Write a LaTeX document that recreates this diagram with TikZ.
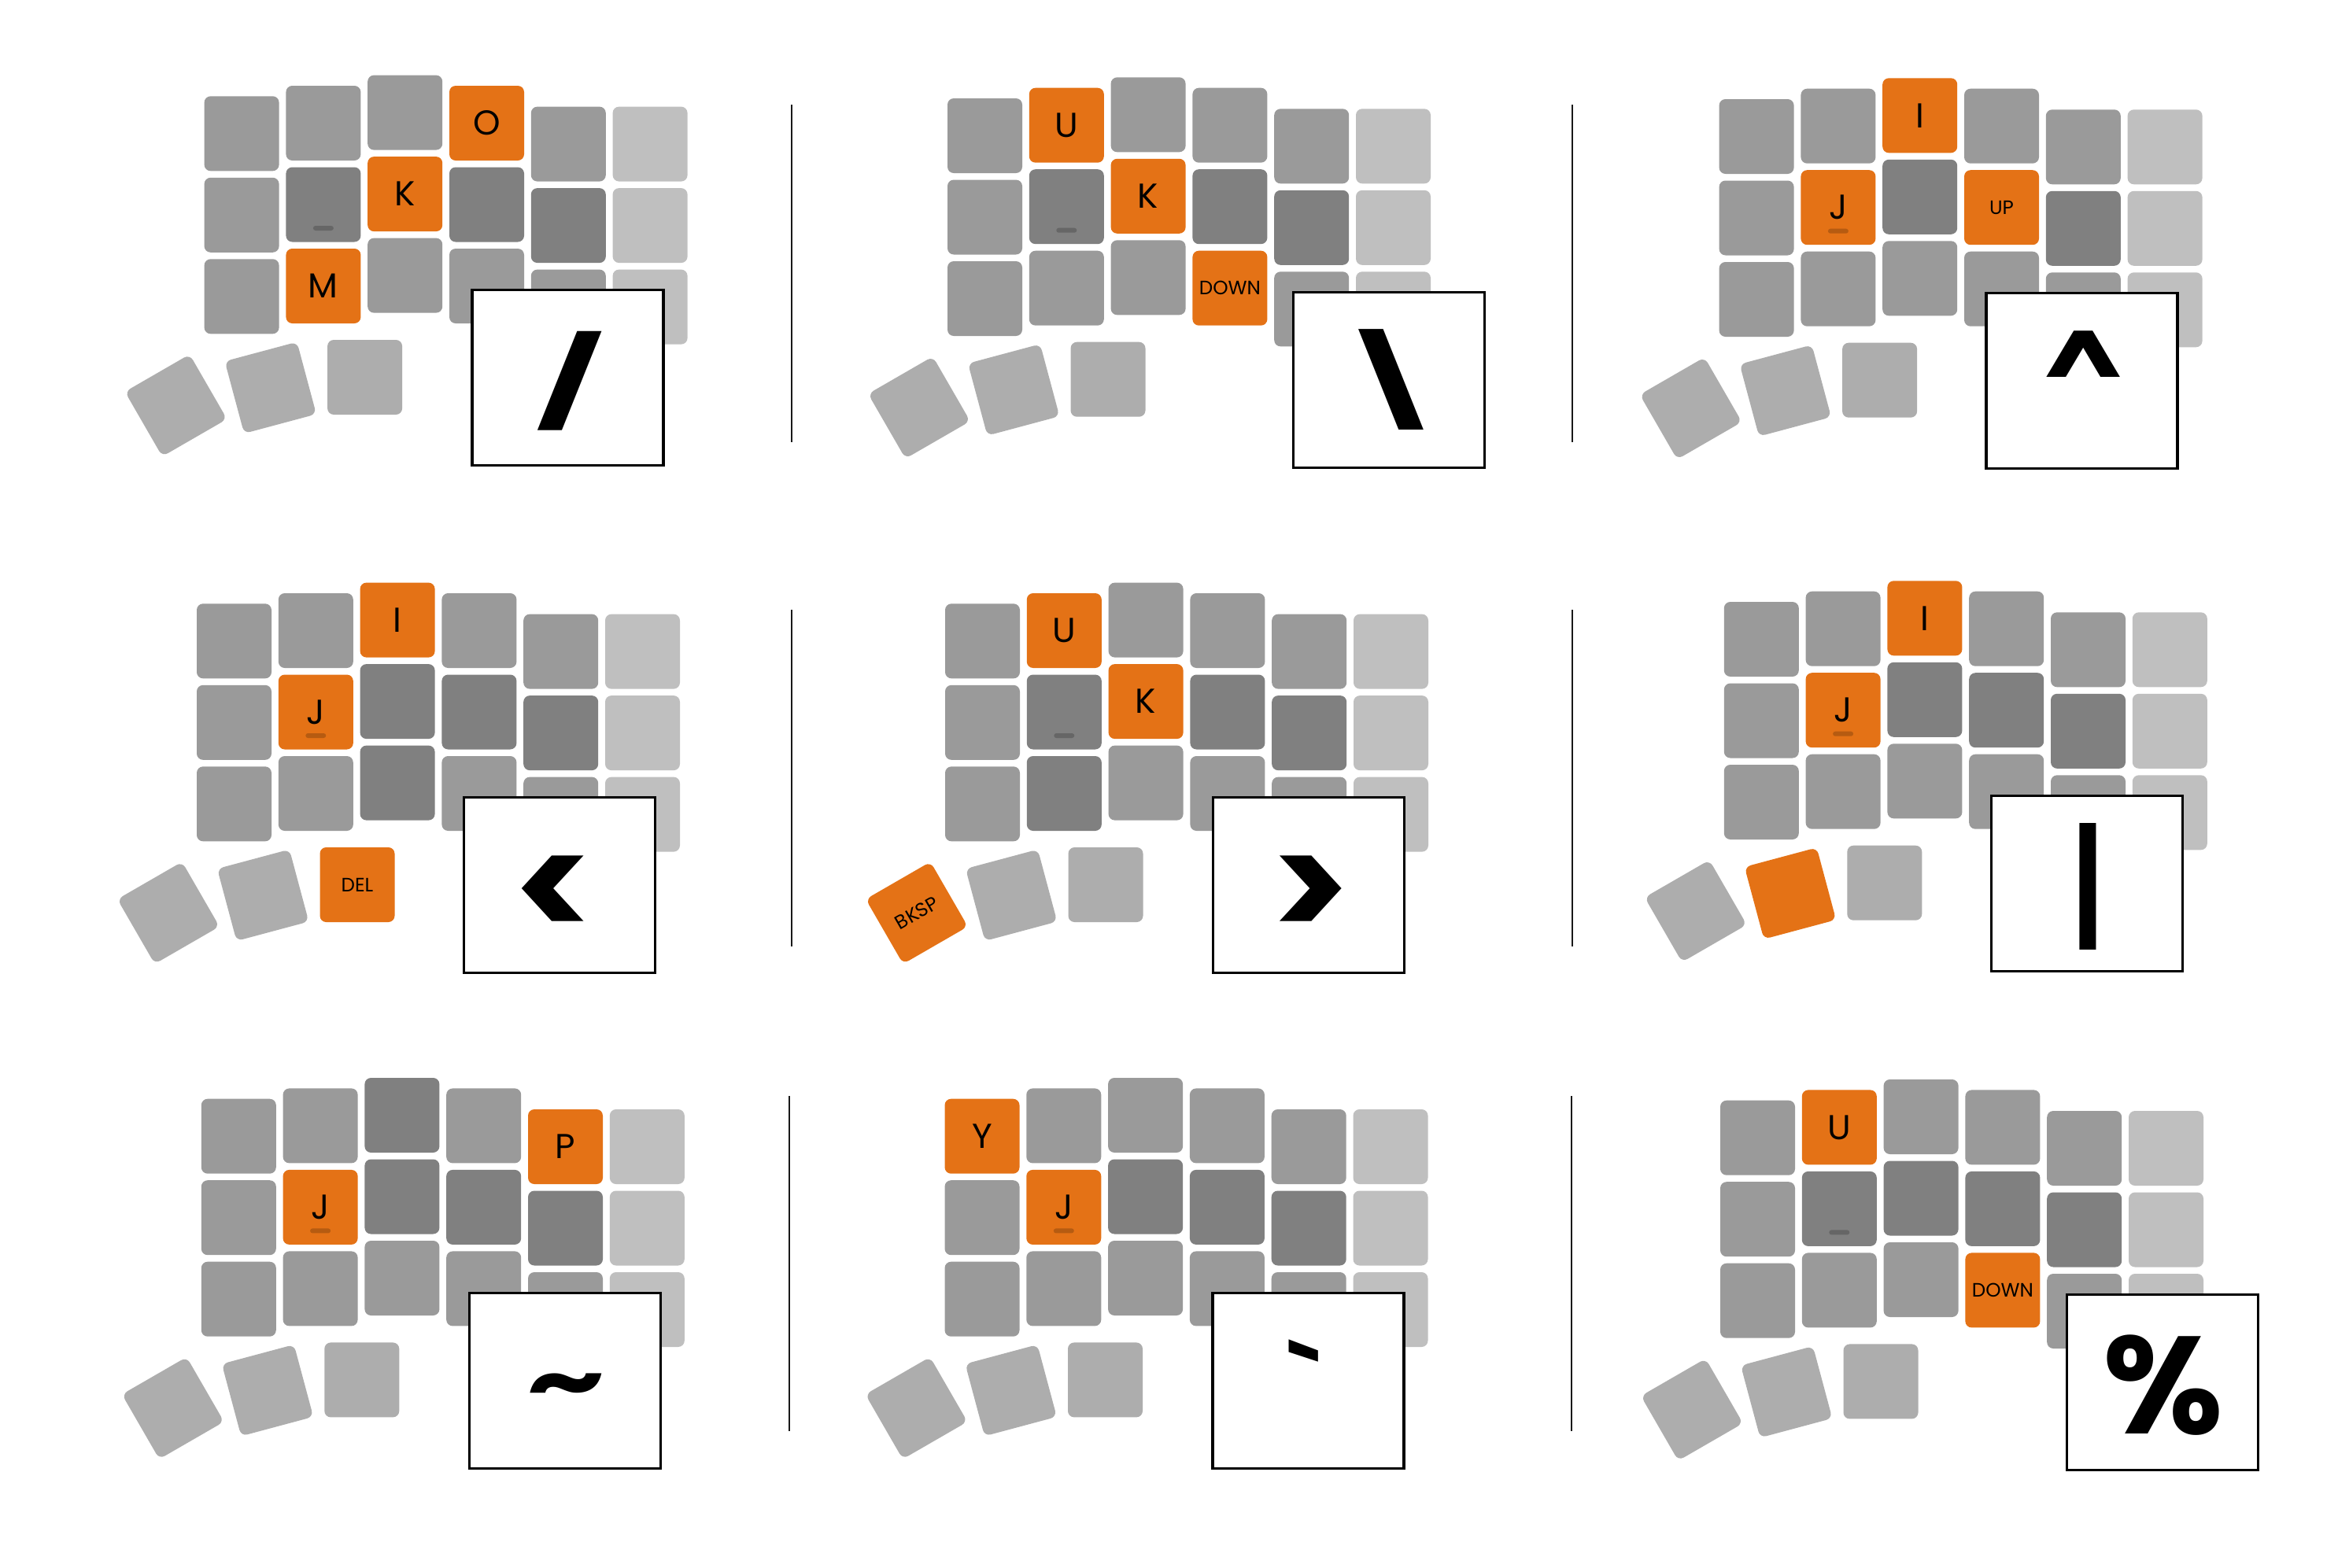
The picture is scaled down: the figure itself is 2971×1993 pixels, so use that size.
\documentclass[tikz,border=0pt]{standalone}
\usepackage{fontspec}
\usepackage{graphicx}
\setmainfont{Poppins}
\newdimen\px \px=0.01cm
\definecolor{kmed}{RGB}{154,154,154}
\definecolor{kdark}{RGB}{128,128,128}
\definecolor{klight}{RGB}{191,191,191}
\definecolor{kthumb}{RGB}{173,173,173}
\definecolor{korange}{RGB}{228,114,22}
\newcommand\sm[1]{{\fontsize{7}{8}\selectfont #1}}
\newcommand\symf[1]{\fontsize{#1}{#1}\selectfont\bfseries}
\newcommand\resetkeys{%
  \foreach \r in {0,1,2}{%
    \foreach \c in {0,...,4}{%
      \expandafter\xdef\csname kc\r\c\endcsname{kmed}%
      \expandafter\gdef\csname kl\r\c\endcsname{}}%
    \expandafter\xdef\csname kc\r5\endcsname{klight}%
    \expandafter\gdef\csname kl\r5\endcsname{}}%
  \foreach \c in {1,...,4}{\expandafter\xdef\csname kc1\c\endcsname{kdark}}%
  \foreach \t in {1,2,3}{%
    \expandafter\xdef\csname tc\t\endcsname{kthumb}%
    \expandafter\gdef\csname tl\t\endcsname{}}}
\newcommand\setk[4]{\expandafter\xdef\csname kc#1#2\endcsname{#3}\expandafter\gdef\csname kl#1#2\endcsname{#4}}
\newcommand\sett[3]{\expandafter\xdef\csname tc#1\endcsname{#2}\expandafter\gdef\csname tl#1\endcsname{#3}}
\tikzset{
  keycap/.style={fill=#1, draw=none, rounded corners=8\px, minimum size=95\px,
    inner sep=0pt, text=black, font=\fontsize{12.5}{14}\selectfont},
  homebar/.style={fill=black, fill opacity=0.2, draw=none, rounded corners=3\px,
    minimum width=26\px, minimum height=6\px, inner sep=0pt},
  symbox/.style={draw=black, fill=white, line width=3.3\px, minimum width=243\px,
    minimum height=223\px, inner sep=0pt},
  symtext/.style={inner sep=0pt, text=black},
  divider/.style={draw=black!90, line width=2\px}
}
% #1 name, #2 ox, #3 oy, #4 box dx, #5 symbol, #6 symbol dx, #7 symbol centre y in box
\newcommand\kpanel[7]{%
  \foreach \r in {0,1,2}{%
    \foreach \c/\s in {0/0,1/-13.3,2/-26.7,3/-13.3,4/13.3,5/13.3}{%
      \edef\kcol{\csname kc\r\c\endcsname}%
      \node[keycap=\kcol] (#1k\r\c) at ({#2+47.5+\c*103.8},{#3+47.5+\r*103.5+\s}) {\csname kl\r\c\endcsname};
    }}
  \node[homebar] (#1bar) at ([yshift=-30\px]#1k11.center) {};
  \edef\kcol{\csname tc1\endcsname}%
  \node[keycap=\kcol, rotate=30] (#1t1) at ({#2-36},{#3+393}) {\csname tl1\endcsname};
  \edef\kcol{\csname tc2\endcsname}%
  \node[keycap=\kcol, rotate=15] (#1t2) at ({#2+84.2},{#3+370.5}) {\csname tl2\endcsname};
  \edef\kcol{\csname tc3\endcsname}%
  \node[keycap=\kcol] (#1t3) at ({#2+204},{#3+357.2}) {\csname tl3\endcsname};
  \node[symbox] (#1box) at ({#2+#4+123},{#3+358}) {};
  \node[symtext] (#1sym) at ({#2+#4+123+#6},{#3+245+#7}) {#5};
}
\begin{document}
\begin{tikzpicture}[x=1\px, y=-1\px]
\fill[white] (0,0) rectangle (2971,1993);
\useasboundingbox (0,0) rectangle (2971,1993);
% dividers
\coordinate (d1a) at (1006,133); \coordinate (d1b) at (1006,562);
\coordinate (d2a) at (1998,133); \coordinate (d2b) at (1998,562);
\coordinate (d3a) at (1006,775); \coordinate (d3b) at (1006,1203);
\coordinate (d4a) at (1998,775); \coordinate (d4b) at (1998,1203);
\coordinate (d5a) at (1003,1393); \coordinate (d5b) at (1003,1819);
\coordinate (d6a) at (1997,1393); \coordinate (d6b) at (1997,1819);
\foreach \i in {1,...,6}{\draw[divider] (d\i a) -- (d\i b);}
% panel 1
\resetkeys
\setk{0}{3}{korange}{O}\setk{1}{2}{korange}{K}\setk{2}{1}{korange}{M}
\kpanel{pa}{259.6}{122.3}{339}{\symf{31.5}\scalebox{1.7}[1]{/}}{3}{117}
% panel 2
\resetkeys
\setk{0}{1}{korange}{U}\setk{1}{2}{korange}{K}\setk{2}{3}{korange}{\sm{DOWN}}
\kpanel{pb}{1204}{125}{438}{\symf{32}\scalebox{1.7}[1]{\textbackslash}}{3}{113}
% panel 3
\resetkeys
\setk{0}{2}{korange}{I}\setk{1}{1}{korange}{J}\setk{1}{3}{korange}{\sm{UP}}
\kpanel{pc}{2184.6}{126}{338}{\symf{50}\scalebox{0.82}[0.62]{\textasciicircum}}{2}{88}
% panel 4
\resetkeys
\setk{0}{2}{korange}{I}\setk{1}{1}{korange}{J}\setk{2}{2}{kdark}{}\sett{3}{korange}{\sm{DEL}}
\kpanel{pd}{250}{767.3}{338}{\symf{53.6}<}{-7}{129}
% panel 5
\resetkeys
\setk{0}{1}{korange}{U}\setk{1}{2}{korange}{K}\setk{2}{1}{kdark}{}\sett{1}{korange}{\sm{BKSP}}
\kpanel{pe}{1201}{767.3}{339}{\symf{53.6}>}{2.5}{129}
% panel 6
\resetkeys
\setk{0}{2}{korange}{I}\setk{1}{1}{korange}{J}\sett{2}{korange}{}
\kpanel{pf}{2190.8}{765}{338}{\symf{50}\scalebox{0.7}[0.97]{\textbar}}{2}{117}
% panel 7
\resetkeys
\setk{0}{2}{kdark}{}\setk{0}{4}{korange}{P}\setk{1}{1}{korange}{J}
\kpanel{pg}{255.8}{1396.7}{339}{\symf{50}\scalebox{0.89}[0.65]{\textasciitilde}}{1.5}{128}
% panel 8
\resetkeys
\setk{0}{0}{korange}{Y}\setk{1}{1}{korange}{J}
\kpanel{ph}{1200.5}{1396.7}{339}{\symf{50}\scalebox{0.88}[0.69]{\textasciigrave}}{-3.5}{111}
% panel 9
\resetkeys
\setk{0}{1}{korange}{U}\setk{2}{3}{korange}{\sm{DOWN}}
\kpanel{pi}{2186}{1398.7}{439}{\symf{50}\%}{1}{117}
\end{tikzpicture}
\end{document}
